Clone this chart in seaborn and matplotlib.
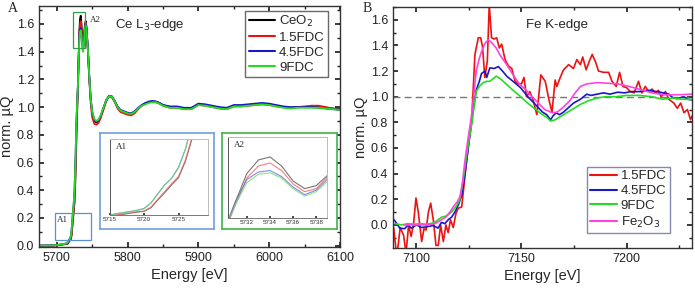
import numpy as np
import matplotlib
matplotlib.use("Agg")
import matplotlib.pyplot as plt
import seaborn as sns
from matplotlib.patches import Rectangle
from matplotlib.ticker import MultipleLocator

# Ce L3-edge data (panel A)
ce_energy = [5675, 5685, 5695, 5700, 5705, 5710, 5713,
             5715, 5716, 5717, 5718, 5719, 5720, 5721, 5722, 5723, 5724, 5725, 5726, 5727, 5728,
             5729, 5730, 5731, 5732, 5733, 5734, 5735, 5736, 5737, 5738, 5739, 5740, 5741, 5742,
             5744, 5746, 5748, 5750, 5753, 5756, 5759, 5762, 5766, 5770, 5774, 5778, 5782, 5786, 5790, 5795,
             5800, 5805, 5810, 5815, 5820, 5825, 5830, 5835, 5840, 5845, 5850,
             5860, 5870, 5880, 5890, 5900, 5910, 5920, 5930, 5940, 5950, 5960, 5970, 5980, 5990,
             6000, 6010, 6020, 6030, 6040, 6050, 6060, 6070, 6080, 6090, 6100]
ceo2 = [0.0, 0.0, 0.001, 0.003, 0.006, 0.01, 0.011,
        0.012, 0.018, 0.026, 0.034, 0.042, 0.048, 0.075, 0.135, 0.19, 0.25, 0.305, 0.43, 0.61, 0.83,
        0.99, 1.15, 1.36, 1.55, 1.64, 1.66, 1.6, 1.5, 1.45, 1.47, 1.54, 1.6, 1.62, 1.58,
        1.42, 1.22, 1.06, 0.96, 0.9, 0.89, 0.9, 0.93, 0.99, 1.05, 1.08, 1.075, 1.04, 1.0, 0.975, 0.965,
        0.955, 0.95, 0.965, 0.99, 1.01, 1.025, 1.035, 1.04, 1.04, 1.03, 1.015,
        1.0, 1.0, 0.99, 0.99, 1.02, 1.015, 1.005, 0.995, 0.99, 1.01, 1.01, 1.015, 1.02, 1.025,
        1.02, 1.01, 1.0, 0.995, 1.0, 1.0, 1.0, 1.0, 0.995, 0.99, 0.985]
fdc15_ce = [0.0, 0.0, 0.0, 0.002, 0.005, 0.009, 0.012,
            0.015, 0.02, 0.028, 0.036, 0.045, 0.05, 0.08, 0.14, 0.2, 0.26, 0.315, 0.44, 0.62, 0.84,
            1.0, 1.15, 1.34, 1.52, 1.6, 1.62, 1.57, 1.48, 1.43, 1.45, 1.53, 1.59, 1.61, 1.57,
            1.41, 1.2, 1.03, 0.93, 0.88, 0.873, 0.885, 0.92, 0.98, 1.045, 1.078, 1.07, 1.035, 0.99, 0.965, 0.955,
            0.945, 0.94, 0.955, 0.985, 1.01, 1.025, 1.035, 1.04, 1.035, 1.025, 1.01,
            0.995, 0.995, 0.985, 0.985, 1.015, 1.01, 1.0, 0.99, 0.985, 1.005, 1.005, 1.01, 1.015, 1.02,
            1.015, 1.005, 1.0, 0.995, 1.0, 1.005, 1.01, 1.01, 1.0, 0.99, 0.98]
fdc45_ce = [0.0, 0.0, 0.002, 0.004, 0.008, 0.012, 0.015,
            0.02, 0.03, 0.039, 0.047, 0.056, 0.07, 0.112, 0.182, 0.25, 0.30, 0.385, 0.525, 0.72, 0.92,
            1.04, 1.17, 1.36, 1.51, 1.56, 1.57, 1.53, 1.46, 1.41, 1.44, 1.515, 1.58, 1.6, 1.57,
            1.42, 1.22, 1.06, 0.97, 0.91, 0.895, 0.905, 0.935, 0.995, 1.05, 1.082, 1.078, 1.045, 1.005, 0.98, 0.97,
            0.96, 0.955, 0.97, 0.995, 1.015, 1.03, 1.04, 1.045, 1.04, 1.03, 1.015,
            1.005, 1.005, 0.995, 0.995, 1.025, 1.02, 1.01, 1.0, 0.995, 1.015, 1.015, 1.02, 1.025, 1.03,
            1.025, 1.015, 1.005, 1.0, 1.0, 1.0, 1.0, 0.995, 0.99, 0.985, 0.98]
fdc9_ce = [0.0, 0.0, 0.002, 0.004, 0.008, 0.012, 0.015,
           0.02, 0.03, 0.038, 0.046, 0.055, 0.068, 0.11, 0.18, 0.25, 0.30, 0.38, 0.52, 0.72, 0.92,
           1.04, 1.16, 1.34, 1.49, 1.545, 1.555, 1.52, 1.45, 1.40, 1.43, 1.50, 1.57, 1.59, 1.56,
           1.42, 1.22, 1.06, 0.97, 0.915, 0.9, 0.91, 0.94, 0.995, 1.05, 1.08, 1.075, 1.04, 1.0, 0.975, 0.965,
           0.955, 0.95, 0.965, 0.99, 1.01, 1.02, 1.03, 1.035, 1.035, 1.025, 1.01,
           0.995, 0.995, 0.985, 0.985, 1.015, 1.01, 1.0, 0.99, 0.985, 1.005, 1.005, 1.01, 1.015, 1.02,
           1.015, 1.005, 0.995, 0.99, 0.995, 0.995, 0.995, 0.995, 0.99, 0.985, 0.98]

# Fe K-edge data (panel B), each series has its own energies
fe_energy_15 = [7089.3, 7090.8, 7092.4, 7094.0, 7095.2, 7096.4, 7097.6, 7098.7, 7099.9, 7101.0,
                7102.6, 7103.7, 7104.7, 7105.8, 7106.9, 7108.2, 7109.4, 7110.5, 7111.6, 7112.9,
                7114.1, 7115.2, 7116.3, 7117.6, 7118.9, 7120.0, 7121.6, 7122.4, 7123.6, 7124.8,
                7126.3, 7127.9, 7129.5, 7130.6, 7131.5, 7132.6, 7133.8, 7134.7, 7135.8, 7137.0,
                7138.2, 7139.5, 7140.6, 7142.2, 7143.8, 7145.4, 7147.0, 7148.5, 7150.0, 7151.2,
                7152.4, 7154.0, 7155.6, 7157.3, 7159.2, 7161.3, 7163.0, 7164.5, 7166.0, 7166.8,
                7168.4, 7170.0, 7172.4, 7174.7, 7176.3, 7178.0, 7179.1, 7180.7, 7182.3, 7183.6,
                7185.2, 7186.6, 7189.0, 7191.4, 7193.0, 7195.0, 7196.6, 7198.2, 7200.0, 7201.7,
                7203.5, 7205.6, 7207.2, 7208.8, 7210.4, 7212.0, 7213.6, 7215.0, 7216.3, 7218.4,
                7220.0, 7222.4, 7224.0, 7225.6, 7227.2, 7228.8, 7230.3, 7231.0]
fdc15_fe = [-0.02, -0.25, -0.02, -0.08, -0.22, 0.0, -0.09, 0.0, 0.21, 0.10,
            -0.13, -0.03, -0.04, 0.10, 0.17, 0.03, -0.16, -0.16, 0.0, -0.13,
            0.0, -0.06, 0.04, -0.02, 0.09, 0.13, 0.14, 0.26, 0.45, 0.62,
            0.8, 1.33, 1.46, 1.46, 1.39, 1.15, 1.28, 1.72, 1.46, 1.45,
            1.46, 1.38, 1.41, 1.29, 1.24, 1.22, 1.12, 1.10, 1.10, 1.15,
            1.0, 1.04, 0.97, 0.86, 1.17, 1.12, 0.98, 0.88, 1.13, 1.08,
            1.15, 1.21, 1.25, 1.22, 1.29, 1.25, 1.31, 1.21, 1.28, 1.33,
            1.27, 1.20, 1.19, 1.19, 1.12, 1.08, 1.19, 1.08, 1.07, 1.04,
            1.03, 1.12, 1.03, 1.08, 1.04, 1.06, 1.03, 1.05, 1.0, 1.04,
            0.98, 0.95, 0.91, 0.95, 0.875, 0.90, 0.82, 0.85]
fe_energy_45 = [7089, 7090.6, 7092.2, 7094.5, 7096.1, 7097.7, 7100.1, 7102.5, 7104.9, 7108,
                7110.4, 7112, 7113.6, 7115.2, 7116.8, 7118.4, 7120, 7121.6, 7123.2, 7124.8,
                7126.3, 7127.5, 7128.5, 7130, 7131, 7132.6, 7133.5, 7135, 7137, 7139,
                7141, 7143, 7146, 7149.6, 7153, 7156, 7160, 7162, 7163.8, 7165,
                7166.5, 7168, 7170, 7172, 7174.7, 7178, 7181, 7183, 7186, 7189,
                7192, 7195.7, 7199, 7202, 7206.6, 7210, 7214, 7217.6, 7220, 7222,
                7224, 7227, 7229, 7231]
fdc45_fe = [0.05, 0.015, -0.025, -0.03, 0.0, -0.025, 0.0, -0.02, -0.015, -0.005,
            -0.025, 0.02, 0.01, 0.04, 0.06, 0.1, 0.155, 0.23, 0.4, 0.61,
            0.8, 0.95, 1.05, 1.12, 1.18, 1.2, 1.15, 1.225, 1.22, 1.235,
            1.2, 1.16, 1.12, 1.07, 1.0, 0.95, 0.88, 0.86, 0.82, 0.85,
            0.875, 0.86, 0.88, 0.91, 0.95, 0.98, 1.02, 1.01, 1.02, 1.03,
            1.02, 1.035, 1.03, 1.04, 1.04, 1.05, 1.04, 1.03, 1.02, 0.99,
            0.985, 1.0, 0.98, 0.975]
fe_energy_9 = [7090, 7093, 7096, 7099, 7102, 7105, 7108, 7109.6, 7112, 7114.4,
               7116.8, 7119.2, 7120.8, 7122.4, 7124.3, 7126.3, 7127.5, 7128.5, 7130, 7131.8,
               7133.5, 7135, 7136.5, 7138, 7140, 7143, 7146, 7149.6, 7153, 7156,
               7160, 7162, 7163.8, 7166, 7170, 7174, 7178, 7182, 7186, 7190,
               7195, 7200, 7206, 7212, 7217, 7222, 7226, 7231]
fdc9_fe = [0.01, 0.0, 0.01, 0.005, 0.01, 0.005, 0.015, 0.03, 0.06, 0.07,
           0.1, 0.15, 0.2, 0.36, 0.58, 0.78, 0.92, 1.04, 1.08, 1.11,
           1.12, 1.12, 1.14, 1.16, 1.14, 1.095, 1.05, 1.0, 0.95, 0.91,
           0.86, 0.84, 0.81, 0.82, 0.86, 0.9, 0.94, 0.97, 0.99, 1.0,
           1.0, 1.01, 1.01, 1.0, 0.98, 0.99, 0.98, 0.98]
fe_energy_ox = [7094, 7098, 7102, 7106, 7109.5, 7112, 7114, 7116, 7118, 7119.5,
                7120.8, 7122, 7123, 7124.5, 7126, 7127.3, 7128.5, 7130, 7131, 7132.5,
                7134.2, 7136, 7138, 7140, 7143, 7146, 7149, 7152, 7155, 7158,
                7161, 7164.6, 7167, 7170, 7173, 7175.5, 7178, 7181, 7186, 7191,
                7195.7, 7200, 7206.6, 7212, 7217.6, 7224, 7231]
fe2o3 = [0.0, 0.0, 0.0, 0.0, 0.015, 0.04, 0.06, 0.1, 0.15, 0.18,
         0.22, 0.33, 0.48, 0.66, 0.82, 1.0, 1.2, 1.3, 1.35, 1.41,
         1.445, 1.42, 1.38, 1.32, 1.25, 1.17, 1.1, 1.055, 1.0, 0.95,
         0.9, 0.875, 0.88, 0.92, 0.97, 1.03, 1.08, 1.1, 1.11, 1.105,
         1.1, 1.085, 1.055, 1.03, 1.015, 1.015, 1.02]

ce_labels = ["CeO$_2$", "1.5FDC", "4.5FDC", "9FDC"]
fe_labels = ["1.5FDC", "4.5FDC", "9FDC", "Fe$_2$O$_3$"]

c_black = "#000000"
c_red = "#ee1111"
c_blue = "#1818c8"
c_green = "#22dd22"
c_mag = "#ff44dd"

sns.set_theme(style="ticks")
plt.rcParams["font.family"] = ["Liberation Sans", "DejaVu Sans"]
plt.rcParams["axes.edgecolor"] = "#333333"
plt.rcParams["axes.linewidth"] = 1.0

fig = plt.figure(figsize=(6.95, 2.89), dpi=100)
axA = fig.add_axes([0.0561, 0.1453, 0.4331, 0.834])
axB = fig.add_axes([0.5655, 0.1419, 0.4302, 0.834])

ce_series = [ceo2, fdc15_ce, fdc45_ce, fdc9_ce]
ce_colors = [c_black, c_red, c_blue, c_green]
for vals, col, lab in zip(ce_series, ce_colors, ce_labels):
    sns.lineplot(x=ce_energy, y=vals, ax=axA, color=col, lw=1.3, label=lab)

axA.set_xlim(5675, 6100)
axA.set_ylim(-0.01, 1.73)
axA.xaxis.set_major_locator(MultipleLocator(100))
axA.xaxis.set_minor_locator(MultipleLocator(50))
axA.set_yticks([0.0, 0.2, 0.4, 0.6, 0.8, 1.0, 1.2, 1.4, 1.6])
axA.yaxis.set_minor_locator(MultipleLocator(0.1))
axA.yaxis.set_major_formatter(matplotlib.ticker.FormatStrFormatter("%.1f"))

fe_x = [fe_energy_15, fe_energy_45, fe_energy_9, fe_energy_ox]
fe_y = [fdc15_fe, fdc45_fe, fdc9_fe, fe2o3]
fe_colors = [c_red, c_blue, c_green, c_mag]
axB.axhline(1.0, color="#777777", lw=1.0, ls=(0, (5, 3)), zorder=1)
for xs, ys, col, lab in zip(fe_x, fe_y, fe_colors, fe_labels):
    sns.lineplot(x=xs, y=ys, ax=axB, color=col, lw=1.2, label=lab)

axB.set_xlim(7089, 7231)
axB.set_ylim(-0.18, 1.70)
axB.xaxis.set_major_locator(MultipleLocator(50))
axB.xaxis.set_minor_locator(MultipleLocator(25))
axB.set_yticks([0.0, 0.2, 0.4, 0.6, 0.8, 1.0, 1.2, 1.4, 1.6])
axB.yaxis.set_minor_locator(MultipleLocator(0.1))
axB.yaxis.set_major_formatter(matplotlib.ticker.FormatStrFormatter("%.1f"))

for ax in (axA, axB):
    ax.tick_params(which="both", direction="in", top=True, right=True, labelsize=9, colors="#222222")
    ax.tick_params(which="major", length=3.5)
    ax.tick_params(which="minor", length=2)
    ax.set_xlabel("Energy [eV]", fontsize=10.5, labelpad=3)
    ax.set_ylabel("norm. µQ", fontsize=10.5, labelpad=2)

leg_kw = dict(fontsize=9.5, frameon=True, fancybox=False, handlelength=2.0,
              handletextpad=0.3, labelspacing=0.2, borderpad=0.25, borderaxespad=0)
legA = axA.legend(loc="upper right", bbox_to_anchor=(0.96, 0.98), edgecolor="#444444", **leg_kw)
legB = axB.legend(loc="lower right", bbox_to_anchor=(0.926, 0.062), edgecolor="#6a6a9a", **leg_kw)
for leg in (legA, legB):
    leg.get_frame().set_linewidth(1.0)
    for h in leg.get_lines():
        h.set_linewidth(1.5)

axA.text(0.252, 0.921, "Ce L$_3$-edge", transform=axA.transAxes, fontsize=9.5, va="center", ha="left")
axB.text(0.445, 0.925, "Fe K-edge", transform=axB.transAxes, fontsize=9.5, va="center", ha="left")

fig.text(0.019, 0.972, "A", fontsize=10, family="Liberation Serif", va="center", ha="center")
fig.text(0.529, 0.972, "B", fontsize=10, family="Liberation Serif", va="center", ha="center")

# zoom rectangles on panel A
c_box_blue = "#5b8fd0"
c_box_green = "#2fa040"
axA.add_patch(Rectangle((5698, 0.043), 50, 0.194, fill=False, ec=c_box_blue, lw=0.9, zorder=5))
axA.text(5701, 0.185, "A1", fontsize=6.5, family="Liberation Serif", va="center", ha="left")
axA.add_patch(Rectangle((5723, 1.43), 17, 0.256, fill=False, ec=c_box_green, lw=0.9, zorder=5))
axA.text(5747, 1.63, "A2", fontsize=6.5, family="Liberation Serif", va="center", ha="left")

# inset frames and inner axes
insets = [
    ([0.1439, 0.2076, 0.164, 0.332], [0.1576, 0.256, 0.141, 0.263], "#6fa0d8", "A1",
     (5715, 5729.2), (0.02, 0.6), [5715, 5720, 5725]),
    ([0.3194, 0.2076, 0.1655, 0.332], [0.3285, 0.2457, 0.1416, 0.279], "#3cb54a", "A2",
     (5730.4, 5738.9), (1.255, 1.79), [5732, 5734, 5736, 5738]),
]
light_cols = ["#555555", "#f06060", "#6a6ae0", "#66e066"]
for frame_rect, inner_rect, fcol, name, xl, yl, xt in insets:
    fr = fig.add_axes(frame_rect)
    fr.set_xticks([])
    fr.set_yticks([])
    fr.set_facecolor("white")
    for s in fr.spines.values():
        s.set_edgecolor(fcol)
        s.set_linewidth(1.2)
    ia = fig.add_axes(inner_rect)
    for vals, col in zip(ce_series, light_cols):
        sns.lineplot(x=ce_energy, y=vals, ax=ia, color=col, lw=0.8, alpha=0.8)
    ia.set_xlim(*xl)
    ia.set_ylim(*yl)
    ia.set_xticks(xt)
    ia.set_yticks([])
    ia.tick_params(axis="x", labelsize=4.5, length=1.5, direction="in", pad=1.5, colors="#333333")
    ia.set_xlabel("")
    ia.set_ylabel("")
    ia.spines["left"].set_edgecolor("#555555")
    ia.spines["bottom"].set_edgecolor("#777777")
    ia.spines["top"].set_edgecolor("#bbbbbb")
    ia.spines["right"].set_edgecolor("#bbbbbb")
    for s in ia.spines.values():
        s.set_linewidth(0.7)
    ia.text(0.06, 0.9, name, transform=ia.transAxes, fontsize=6.5, family="Liberation Serif",
            va="center", ha="left")

fig.savefig("out.png", dpi=100)
